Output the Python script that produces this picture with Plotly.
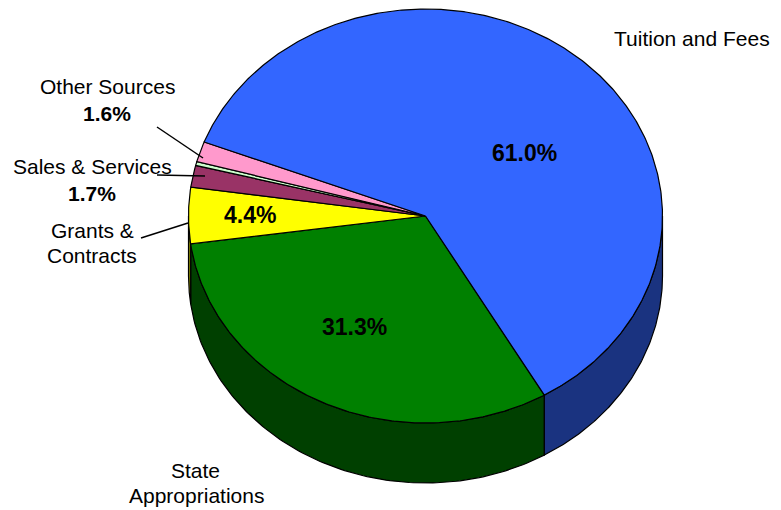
import numpy as np
import plotly.graph_objects as go

# ---- data (clockwise from the Tuition/State boundary) ----
categories = ["State Appropriations", "Grants & Contracts", "Sales & Services",
              "Unlabeled", "Other Sources", "Tuition and Fees"]
values = [31.3, 4.4, 1.7, 0.3, 1.6, 61.0]
top_colors = ["#008000", "#FFFF00", "#993366", "#CCFFCC", "#FF99CC", "#3366FF"]
side_colors = ["#004000", "#808000", "#4D1A33", "#668066", "#804D66", "#1A3380"]

# ---- geometry (pixel-space axes; page body has an 8px margin) ----
W, H = 781, 510
OFF = 8
cx, cy = 425.5, 216.0
rx, ry = 237.0, 207.0
depth = 60.0
start = 59.9  # degrees, screen clockwise from east

def pt(t_deg, dy=0.0):
    t = np.radians(t_deg)
    return cx + rx * np.cos(t), cy + ry * np.sin(t) + dy

total = sum(values)
bounds = [start]
for v in values:
    bounds.append(bounds[-1] + 360.0 * v / total)

fig = go.Figure()

# sides (visible front half: screen angles 0..180 mod 360)
for i, v in enumerate(values):
    a1, a2 = bounds[i], bounds[i + 1]
    for base in (0.0, 360.0):
        s, e = max(a1, base), min(a2, base + 180.0)
        if e - s <= 0.01:
            continue
        ts = np.linspace(s, e, 120)
        xs_top, ys_top = pt(ts)
        xs_bot, ys_bot = pt(ts[::-1], depth)
        xs = np.concatenate([xs_top, xs_bot, xs_top[:1]])
        ys = np.concatenate([ys_top, ys_bot, ys_top[:1]])
        fig.add_trace(go.Scatter(x=xs, y=ys, mode="lines", fill="toself",
                                 fillcolor=side_colors[i],
                                 line=dict(color="black", width=1.2),
                                 hoverinfo="skip", showlegend=False))

# top faces
for i, v in enumerate(values):
    a1, a2 = bounds[i], bounds[i + 1]
    ts = np.linspace(a1, a2, max(8, int((a2 - a1) * 2)))
    xa, ya = pt(ts)
    xs = np.concatenate([[cx], xa, [cx]])
    ys = np.concatenate([[cy], ya, [cy]])
    fig.add_trace(go.Scatter(x=xs, y=ys, mode="lines", fill="toself",
                             fillcolor=top_colors[i],
                             line=dict(color="black", width=1.2),
                             name=categories[i], hoverinfo="name",
                             showlegend=False))

F = "Liberation Sans, Arial, sans-serif"
ann = []
def label(x, y, text, size=21, bold=False):
    ann.append(dict(x=x, y=y, xref="x", yref="y", text=(f"<b>{text}</b>" if bold else text),
                    showarrow=False, font=dict(family=F, size=size, color="black"),
                    xanchor="center", yanchor="middle"))

pct = {c: f"{v:.1f}%" for c, v in zip(categories, values)}
label(524, 153, pct["Tuition and Fees"], 23, True)
label(354, 327, pct["State Appropriations"], 23, True)
label(250, 215, pct["Grants & Contracts"], 23, True)
label(692, 38, "Tuition and Fees")
label(195, 470, "State")
label(196, 495, "Appropriations")
label(92, 230, "Grants &")
label(92, 255, "Contracts")
label(92, 166, "Sales & Services")
label(92, 193, pct["Sales & Services"], 21, True)
label(107, 86, "Other Sources")
label(107, 113, pct["Other Sources"], 21, True)

shapes = [
    dict(type="line", xref="x", yref="y", x0=157, y0=127, x1=203, y1=158,
         line=dict(color="black", width=1.5)),
    dict(type="line", xref="x", yref="y", x0=157, y0=175, x1=205, y1=176,
         line=dict(color="black", width=1.5)),
    dict(type="line", xref="x", yref="y", x0=141, y0=238, x1=188, y1=223,
         line=dict(color="black", width=1.5)),
]

fig.update_layout(
    width=W, height=H, margin=dict(l=0, r=0, t=0, b=0),
    paper_bgcolor="white", plot_bgcolor="white",
    xaxis=dict(range=[OFF, W + OFF], visible=False, fixedrange=True),
    yaxis=dict(range=[H + OFF, OFF], visible=False, fixedrange=True),
    annotations=ann, shapes=shapes, showlegend=False,
)
fig.write_html("out.html")
